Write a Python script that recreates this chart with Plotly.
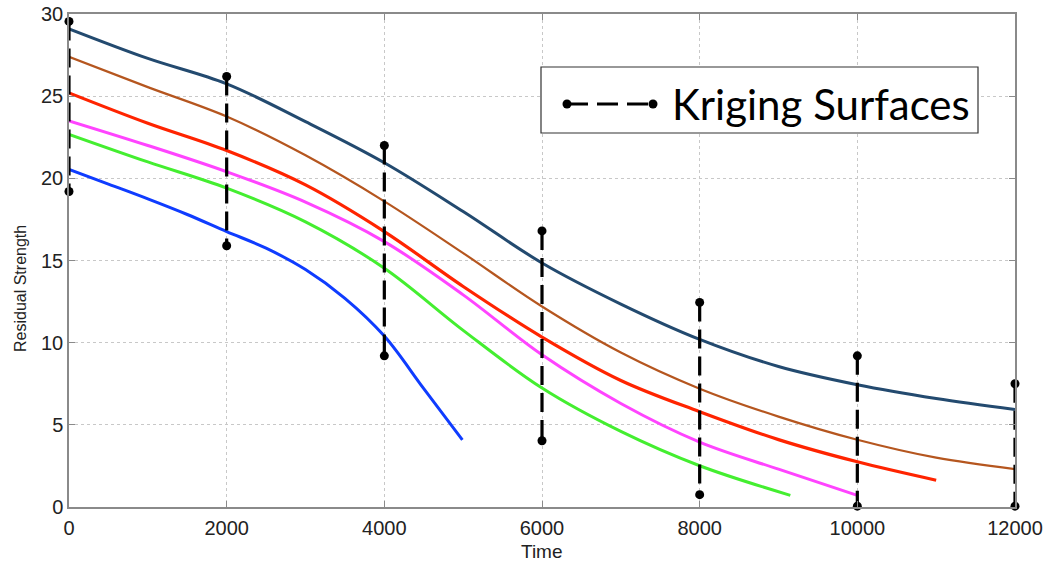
import plotly.graph_objects as go

# ---------------- data ----------------
krig_x = [0, 2000, 4000, 6000, 8000, 10000, 12000]
krig_top = [29.55, 26.2, 22.0, 16.8, 12.45, 9.2, 7.5]
krig_bottom = [19.2, 15.9, 9.2, 4.03, 0.75, 0.05, 0.05]

darkblue_x = [0, 1000, 2000, 3000, 4000, 5000, 6000, 7000, 8000, 9000, 10000, 11000, 12000]
darkblue_y = [29.1, 27.3, 25.75, 23.45, 20.95, 17.98, 14.85, 12.35, 10.2, 8.55, 7.44, 6.6, 5.93]

brown_x = [0, 1000, 2000, 3000, 4000, 5000, 6000, 7000, 8000, 9000, 10000, 11000, 12000]
brown_y = [27.4, 25.55, 23.76, 21.4, 18.6, 15.45, 12.2, 9.4, 7.2, 5.5, 4.09, 3.0, 2.31]

red_x = [0, 1000, 2000, 3000, 4000, 5000, 6000, 7000, 8000, 9000, 10000, 11000]
red_y = [25.2, 23.35, 21.69, 19.6, 16.76, 13.42, 10.34, 7.7, 5.8, 4.1, 2.75, 1.63]

magenta_x = [0, 1000, 2000, 3000, 4000, 5000, 6000, 7000, 8000, 9000, 10000]
magenta_y = [23.5, 22.0, 20.4, 18.55, 16.15, 12.91, 9.26, 6.3, 3.95, 2.3, 0.71]

green_x = [0, 1000, 2000, 3000, 4000, 5000, 6000, 7000, 8000, 9150]
green_y = [22.68, 21.0, 19.4, 17.35, 14.53, 10.75, 7.24, 4.6, 2.51, 0.71]

blue_x = [0, 500, 1000, 1500, 2000, 2500, 3000, 3500, 4000, 4500, 4990]
blue_y = [20.55, 19.65, 18.75, 17.8, 16.76, 15.75, 14.45, 12.7, 10.4, 7.2, 4.09]

x_ticks = [0, 2000, 4000, 6000, 8000, 10000, 12000]
y_ticks = [0, 5, 10, 15, 20, 25, 30]

legend_label = "Kriging Surfaces"
x_title = "Time"
y_title = "Residual Strength"

curves = [
    (darkblue_x, darkblue_y, "#234a6f", 3),
    (brown_x, brown_y, "#b5561f", 2.2),
    (red_x, red_y, "#ff2400", 3.2),
    (magenta_x, magenta_y, "#ff44ff", 3),
    (green_x, green_y, "#44ee30", 3),
    (blue_x, blue_y, "#0f3cff", 3),
]

fig = go.Figure()

for xs, ys, col, w in curves:
    fig.add_trace(go.Scatter(
        x=xs, y=ys, mode="lines",
        line=dict(color=col, width=w, shape="spline", smoothing=1.0),
        showlegend=False, hoverinfo="skip"))

for xk, top, bot in zip(krig_x, krig_top, krig_bottom):
    fig.add_trace(go.Scatter(
        x=[xk, xk], y=[top, bot], mode="lines+markers",
        line=dict(color="black", width=3.2, dash="19px,8px"),
        marker=dict(color="black", size=9),
        cliponaxis=False, showlegend=False, hoverinfo="skip"))

# ---------------- layout ----------------
L, R, T, B = 69, 36, 14, 62
W, H = 1051, 569
pw, ph = W - L - R, H - T - B

def px2paper(px, py):
    return (px - L) / pw, (H - B - py) / ph

shapes = []
bx0, by0 = px2paper(541, 133)
bx1, by1 = px2paper(978, 67)
shapes.append(dict(type="rect", xref="paper", yref="paper", x0=bx0, y0=by0, x1=bx1, y1=by1,
                   line=dict(color="#333333", width=1.2), fillcolor="white", layer="above"))
lx0, ly = px2paper(567, 104)
lx1, _ = px2paper(653, 104)
shapes.append(dict(type="line", xref="paper", yref="paper", x0=lx0, y0=ly, x1=lx1, y1=ly,
                   line=dict(color="black", width=3, dash="21px,9px"), layer="above"))
for lx in (lx0, lx1):
    shapes.append(dict(type="circle", xref="paper", yref="paper", xsizemode="pixel", ysizemode="pixel",
                       xanchor=lx, yanchor=ly, x0=-4.5, x1=4.5, y0=-4.5, y1=4.5,
                       fillcolor="black", line=dict(color="black", width=0), layer="above"))

tx, ty = px2paper(670, 104)
xtx, xty = px2paper(542, 551)
ytx, yty = px2paper(20, 289)
lab_font = dict(family="Liberation Sans, Arial, sans-serif", color="#222222")
annotations = [
    dict(xref="paper", yref="paper", x=tx, y=ty, xanchor="left", yanchor="middle",
         text=legend_label, showarrow=False,
         font=dict(family="Lato, Open Sans, sans-serif", size=42, color="black")),
    dict(xref="paper", yref="paper", x=xtx, y=xty, xanchor="center", yanchor="middle",
         text=x_title, showarrow=False, font=dict(size=19, **lab_font)),
    dict(xref="paper", yref="paper", x=ytx, y=yty, xanchor="center", yanchor="middle",
         text=y_title, showarrow=False, textangle=-90, font=dict(size=16, **lab_font)),
]

axis_common = dict(
    showline=True, linecolor="#8a8a8a", linewidth=1.5, mirror="ticks",
    ticks="inside", ticklen=6, tickcolor="#8a8a8a", tickwidth=1,
    showgrid=True, gridcolor="#c8c8c8", griddash="dot", gridwidth=1,
    zeroline=False, automargin=False,
    tickfont=dict(family="Liberation Sans, Arial, sans-serif", size=20, color="#222222"),
)

fig.update_layout(
    width=W, height=H,
    margin=dict(l=L, r=R, t=T, b=B, pad=0, autoexpand=False),
    plot_bgcolor="white", paper_bgcolor="white",
    xaxis=dict(range=[0, 12000], tickvals=x_ticks, ticktext=[str(v) for v in x_ticks],
               ticklabelstandoff=2, **axis_common),
    yaxis=dict(range=[0, 30], tickvals=y_ticks, ticktext=[str(v) for v in y_ticks],
               ticklabelstandoff=0, **axis_common),
    shapes=shapes, annotations=annotations,
)

fig.write_html("out.html")
